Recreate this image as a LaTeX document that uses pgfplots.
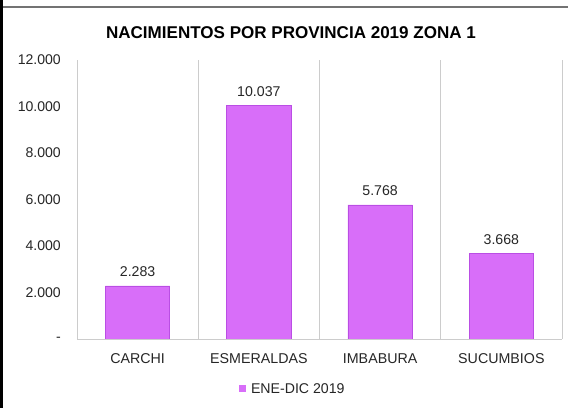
\documentclass[border=0pt]{standalone}
\usepackage{pgfplots}
\pgfplotsset{compat=1.18}
\usepackage{fontspec}
\setmainfont{Liberation Sans}
\definecolor{barfill}{RGB}{216,110,249}
\definecolor{barline}{RGB}{186,78,228}
\definecolor{gridgray}{RGB}{204,204,204}
\definecolor{txt}{RGB}{38,38,38}
\begin{document}
\begin{tikzpicture}
\useasboundingbox (0,0) rectangle (568bp,408bp);
\fill[white] (0,0) rectangle (568bp,408bp);
% chart frame
\fill[black] (0,0) rectangle (3bp,408bp);
\draw[line width=1.5bp, gray!90!black] (3bp,401bp) -- (568bp,401bp);
\node[anchor=base, font=\fontsize{17.1}{20}\selectfont\bfseries, text=black] at (291bp,369bp)
  {NACIMIENTOS POR PROVINCIA 2019 ZONA 1};
\begin{axis}[
    at={(77bp,69bp)}, anchor=south west,
    scale only axis,
    width=485bp, height=279bp,
    ybar,
    bar width=0.53,
    xmin=-0.5, xmax=3.5,
    ymin=0, ymax=12000,
    xtick={0,1,2,3},
    xticklabels={CARCHI, ESMERALDAS, IMBABURA, SUCUMBIOS},
    ytick={0,2000,4000,6000,8000,10000,12000},
    yticklabels={{-\hspace{12bp}}, 2.000, 4.000, 6.000, 8.000, 10.000, 12.000},
    scaled y ticks=false,
    major tick length=0pt,
    axis line style={draw=none},
    extra x ticks={-0.5,0.5,1.5,2.5,3.5},
    extra x tick labels={},
    extra x tick style={grid=major, major grid style={gridgray, line width=1bp}},
    xticklabel style={font=\fontsize{14.3}{16}\selectfont, text=txt, inner sep=0pt, yshift=-14bp},
    yticklabel style={font=\fontsize{14.1}{16}\selectfont, text=txt, inner sep=0pt, xshift=-16bp},
    point meta=explicit symbolic,
    nodes near coords,
    every node near coord/.append style={font=\fontsize{14.2}{16}\selectfont, text=txt, inner sep=0pt, yshift=9bp},
    legend style={at={(0.445,-0.179)}, anchor=center, draw=none, fill=none,
      font=\fontsize{14.2}{16}\selectfont, text=txt, inner sep=0pt,
      /tikz/every even column/.append style={column sep=0pt}},
    legend image code/.code={\fill[barfill, draw=none] (0bp,-3.5bp) rectangle (7bp,3.5bp);
      \path[draw=none, fill=none] (0bp,0bp) -- (10bp,0bp);},
    clip=false,
]
\addplot[fill=barfill, draw=barline, line width=0.6bp] coordinates {
    (0, 2283) [2.283]
    (1,10037) [10.037]
    (2, 5768) [5.768]
    (3, 3668) [3.668]
};
\legend{ENE-DIC 2019}
\draw[gridgray, line width=1bp] (axis cs:-0.5,0) -- (axis cs:3.5,0);
\end{axis}
\end{tikzpicture}
\end{document}
